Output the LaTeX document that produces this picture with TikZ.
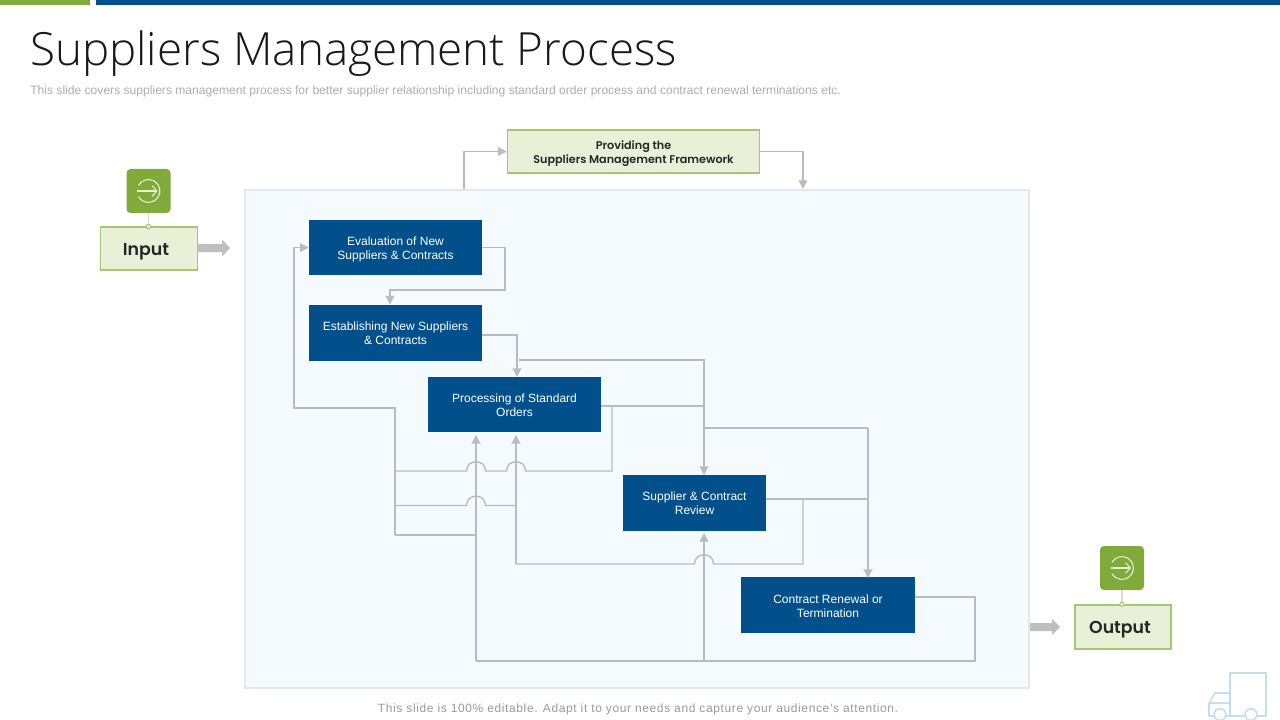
\documentclass[tikz,border=0pt]{standalone}
\usepackage{fontspec}
\setmainfont{Liberation Sans}
\newfontfamily\titlefont{Open Sans Light}
\newfontfamily\labelfont{Poppins SemiBold}
\usepackage{tikz}
\usetikzlibrary{arrows.meta,positioning,calc}

\definecolor{barblue}{HTML}{02508B}
\definecolor{bargreen}{HTML}{80AB3A}
\definecolor{panelfill}{HTML}{F5FAFE}
\definecolor{panelline}{HTML}{E1E8EE}
\definecolor{paleleaf}{HTML}{E8F1D8}
\definecolor{leafline}{HTML}{A6C671}
\definecolor{flowgrey}{HTML}{B8BCC2}
\definecolor{truckline}{HTML}{C5DDF0}

\tikzset{
	stepbox/.style={draw=none,fill=barblue,text=white,align=center,font=\fontsize{9}{10.5}\selectfont,inner sep=0pt},
	leafbox/.style={draw=leafline,line width=1.1pt,fill=paleleaf,align=center,inner sep=0pt,text=black!85},
	iconbox/.style={fill=bargreen,rounded corners=3pt,inner sep=0pt,minimum width=33pt,minimum height=33pt},
	flow/.style={draw=flowgrey,line width=1pt},
	flowto/.style={flow,-{Triangle[length=6.5pt,width=6.5pt]}},
	fatarrow/.style={draw=none,fill=black!25},
}
% invisible strut, pushes a node's text down a little
\newcommand{\toppad}[1]{\rule{0pt}{#1}}
% half circle hop over a vertical line, running right to left
\newcommand{\hop}[2]{-- (#1+9.5,#2) .. controls (#1+9.5,#2-12.4) and (#1-9.5,#2-12.4) .. (#1-9.5,#2)}
\newcommand{\hopr}[2]{-- (#1-9.5,#2) .. controls (#1-9.5,#2-12.4) and (#1+9.5,#2-12.4) .. (#1+9.5,#2)}
% round enter icon
\newcommand{\entericon}[2]{
	\draw[paleleaf,line width=0.8pt] ($(#1,#2)+(-10,-5.75)$) arc[start angle=150,end angle=-150,radius=8.6pt];
	\draw[paleleaf,line width=0.8pt,-{Straight Barb[length=3.5pt,width=8pt]}] ($(#1,#2)+(-11.5,0)$) -- ($(#1,#2)+(9,0)$);
}

\begin{document}
\begin{tikzpicture}[x=0.75pt,y=-0.75pt]
	\useasboundingbox (0,0) rectangle (1280,720);
	\fill[bargreen] (0,0) rectangle (90,5);
	\fill[barblue] (96,0) rectangle (1280,5);

	\node[anchor=west,inner sep=0pt,font=\titlefont\fontsize{34.3}{37}\selectfont,text=black!90] (title) at (30,53.5) {Suppliers Management Process};
	\node[anchor=west,inner sep=0pt,font=\fontsize{9.07}{11}\selectfont,text=black!32] (subtitle) at (30,91) {This slide covers suppliers management process for better supplier relationship including standard order process and contract renewal terminations etc.};
	\node[inner sep=0pt,font=\addfontfeature{LetterSpace=5.2}\fontsize{9}{11}\selectfont,text=black!40] (footer) at (638,709.5) {This slide is 100\% editable. Adapt it to your needs and capture your audience's attention.};

	\draw[panelline,line width=1pt,fill=panelfill] (245,190) rectangle (1029,688);
	\coordinate (paneltop) at (464,189);
	\coordinate (panelin) at (803,189);

	\node[leafbox,minimum width=189pt,minimum height=32pt,font=\labelfont\fontsize{8.4}{10.5}\selectfont] (frame) at (633.5,151.5) {\toppad{9.5pt}Providing the\\Suppliers Management Framework};

	\node[leafbox,minimum width=73pt,minimum height=32pt,font=\labelfont\fontsize{13}{16}\selectfont] (input) at (149,248.5) {\toppad{13.5pt}Input\kern4.5pt};
	\node[leafbox,minimum width=72pt,minimum height=33pt,font=\labelfont\fontsize{13}{16}\selectfont] (output) at (1123,627) {\toppad{12.7pt}Output\kern4.5pt};
	\node[iconbox] (inicon) at (148.5,191) {};
	\node[iconbox] (outicon) at (1122,568) {};
	\entericon{148.5}{191}
	\entericon{1122}{568}
	\draw[black!15,line width=0.8pt] (inicon.south) -- (inicon.south |- input.north);
	\draw[black!15,line width=0.8pt] (outicon.south) -- (outicon.south |- output.north);
	\draw[leafline,line width=0.7pt,fill=paleleaf] (inicon.south |- input.north) circle[radius=1.7pt];
	\draw[leafline,line width=0.7pt,fill=paleleaf] (outicon.south |- output.north) circle[radius=1.7pt];

	\fill[fatarrow] (198,244) -- (222,244) -- (222,239.5) -- (230,248) -- (222,256.5) -- (222,252) -- (198,252) -- cycle;
	\fill[fatarrow] (1030,623) -- (1052,623) -- (1052,619) -- (1060,627) -- (1052,635) -- (1052,631) -- (1030,631) -- cycle;

	\node[stepbox,minimum width=129.75pt,minimum height=41.25pt] (eval) at (395.5,247.5) {\toppad{8.9pt}Evaluation of New\\Suppliers \& Contracts};
	\node[stepbox,minimum width=129.75pt,minimum height=42pt] (estab) at (395.5,333) {Establishing New Suppliers\\\& Contracts};
	\node[stepbox,minimum width=129.75pt,minimum height=41.25pt] (proc) at (514.5,404.5) {\toppad{8.2pt}Processing of Standard\\Orders};
	\node[stepbox,minimum width=107.25pt,minimum height=42pt] (review) at (694.5,503) {Supplier \& Contract\\Review};
	\node[stepbox,minimum width=130.5pt,minimum height=42pt] (renew) at (828,605) {\toppad{8.2pt}Contract Renewal or\\Termination};

	% junctions, named by where they sit
	\coordinate (backbus) at (395,408);
	\coordinate (backtop) at (294,408);
	\coordinate (bottomleft) at (476,661);
	\coordinate (bottommid) at (704,661);
	\coordinate (bottomright) at (975,661);
	\coordinate (midfeed) at (516,564);
	\coordinate (reviewout) at (803,499);
	\coordinate (toprow) at (704,360);
	\coordinate (procout) at (704,406);
	\coordinate (procdrop) at (612,406);
	\coordinate (renewfeed) at (868,428);
	\coordinate (renewfrom) at (704,428);
	\coordinate (reviewjoin) at (868,499);

	\draw[flowto] (paneltop) |- (frame.west);
	\draw[flowto] (frame.east) -| (panelin);

	\draw[flowto] (eval.east) -- (505,247.5) -- (505,290) -- (390,290) -- (390,304.5);
	\draw[flowto] (estab.east |- 0,335) -- (517,335) -- (517,377);
	\draw[flowto] (519,360) -- (toprow) -- (704,475);
	\draw[flow] (proc.east |- procout) -- (procout);
	\draw[flow] (procdrop) -- (612,471) \hop{516}{471} \hop{476}{471} -- (395,471);
	\draw[flowto] (395,535) -- (backbus) -- (backtop) -- (294,247.5) -- (eval.west);
	\draw[flow] (395,505.5) \hopr{476}{505.5} -- (516,505.5);
	\draw[flow] (395,535) -- (476,535);
	\draw[flowto] (bottomleft) -- (476,435);
	\draw[flowto] (midfeed) -- (516,435);
	\draw[flow] (midfeed) \hopr{704}{564} -- (803,564) -- (reviewout);
	\draw[flowto] (bottommid) -- (704,533);
	\draw[flow] (review.east |- reviewout) -- (reviewjoin);
	\draw[flow] (renewfrom) -- (renewfeed);
	\draw[flowto] (renewfeed) -- (868,578);
	\draw[flow] (renew.east |- 0,597) -- (975,597) -- (bottomright) -- (bottomleft);

	% truck mark
	\draw[truckline,line width=1.2pt,line join=round] (1230,716) -- (1230,673) -- (1266,673) -- (1266,716) -- (1257,716);
	\draw[truckline,line width=1.2pt,line join=round] (1245,716) -- (1226,716);
	\draw[truckline,line width=1.2pt,line join=round] (1214,716) -- (1209,716) -- (1209,703) -- (1215,693) -- (1230,693);
	\draw[truckline,line width=1.2pt] (1209,703) -- (1230,703);
	\draw[truckline,line width=1.2pt] (1220,714.5) circle[radius=4.4pt];
	\draw[truckline,line width=1.2pt] (1251,714.5) circle[radius=4.4pt];
\end{tikzpicture}
\end{document}
